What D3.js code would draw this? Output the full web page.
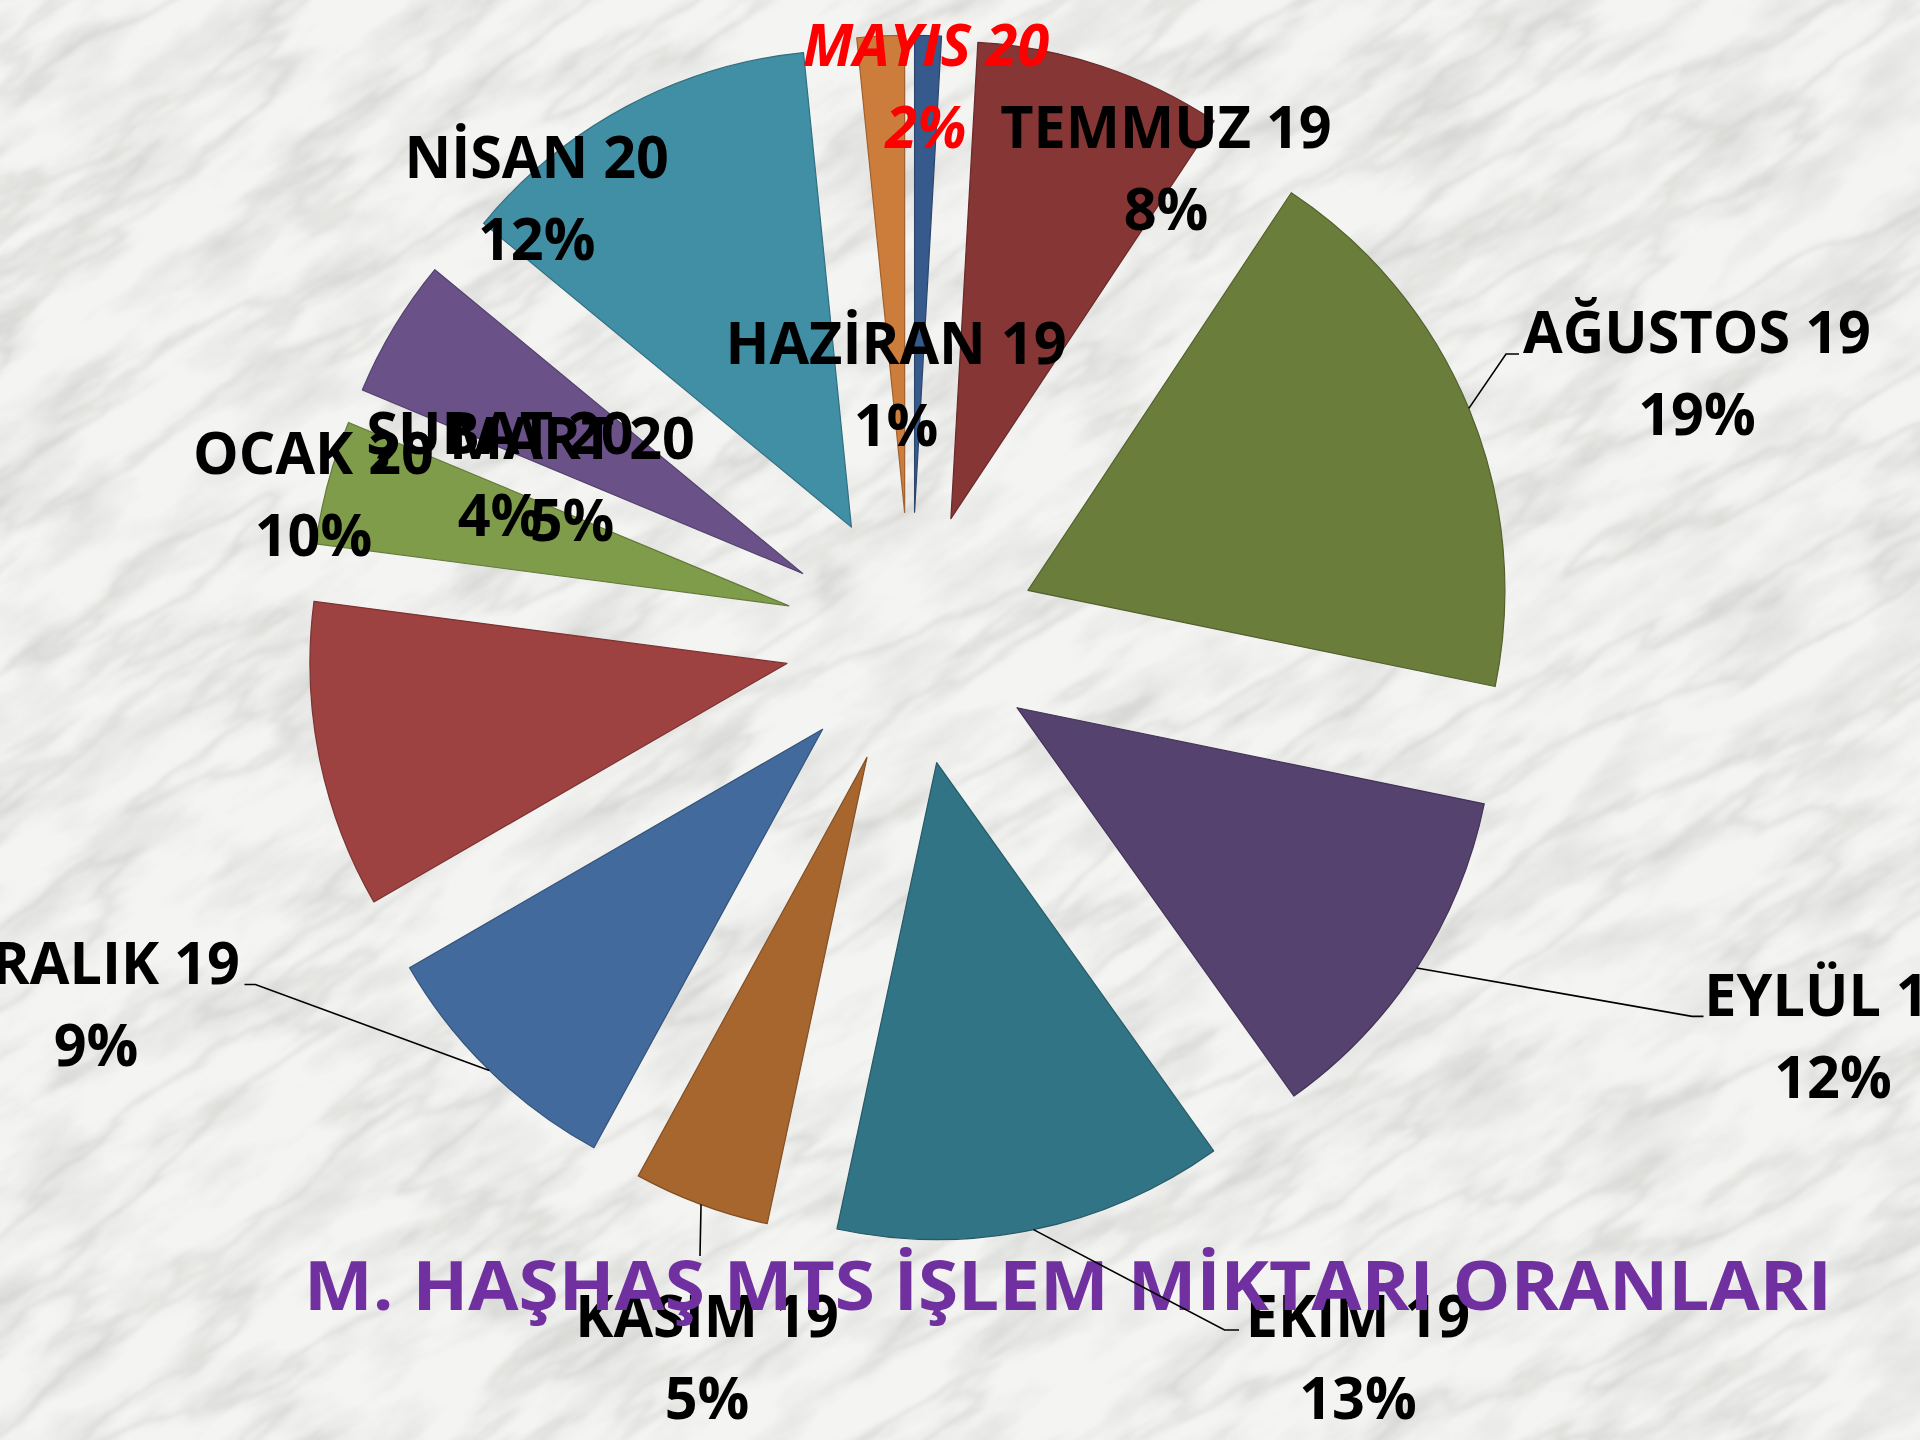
<!DOCTYPE html>
<html>
<head>
<meta charset="utf-8">
<script src="https://cdn.jsdelivr.net/npm/d3@7"></script>
<style>
  html, body { margin: 0; padding: 0; background: #f3f3f1; }
  svg { display: block; }
</style>
</head>
<body>
<script>
// Monthly MTS transaction shares, June 2019 – May 2020 (percent of total)
const months = ["HAZİRAN 19", "TEMMUZ 19", "AĞUSTOS 19", "EYLÜL 19", "EKİM 19", "KASIM 19",
                "ARALIK 19", "OCAK 20", "ŞUBAT 20", "MART 20", "NİSAN 20", "MAYIS 20"];
const shares = [0.9, 8.4, 18.9, 11.9, 13.2, 4.6, 8.7, 10.4, 4.2, 4.7, 12.4, 1.6];
const sliceColors = ["#375a8c", "#853635", "#6b7d3b", "#55426f", "#317485", "#a8662f",
                     "#436a9c", "#9e4241", "#7f9c4a", "#6a5289", "#408fa5", "#cd7d3b"];
const highlighted = ["MAYIS 20"];
const chartTitle = "M. HAŞHAŞ MTS İŞLEM MİKTARI ORANLARI";

// Layout: pie placement and label placement (baseline of the first label line)
const W = 1920, H = 1440;
const pieCenter = [911, 638.7];
const radius = 477;
const explode = 126.5;
const lineGap = 82;
const labelLayout = {
  "HAZİRAN 19": { x: 896,  y: 364 },
  "TEMMUZ 19":  { x: 1166, y: 148.3 },
  "AĞUSTOS 19": { x: 1697, y: 352.8, leader: [[1506, 354], [1519, 354]] },
  "EYLÜL 19":   { x: 1833, y: 1016,  leader: [[1692, 1016.4], [1703.5, 1016.4]] },
  "EKİM 19":    { x: 1358, y: 1336.7, leader: [[1224.5, 1330], [1239, 1330]] },
  "KASIM 19":   { x: 707,  y: 1336.7, leader: [[700, 1256]] },
  "ARALIK 19":  { x: 96,   y: 984,   leader: [[255.4, 984.5], [244.5, 984.5]] },
  "OCAK 20":    { x: 313.5, y: 474 },
  "ŞUBAT 20":   { x: 500,  y: 454 },
  "MART 20":    { x: 572,  y: 459 },
  "NİSAN 20":   { x: 536.7, y: 178.3 },
  "MAYIS 20":   { x: 926,  y: 66 }
};
const labelFont = "'Open Sans', 'Noto Sans', sans-serif";
const labelSize = 58.4;
const squeeze = 0.985;

const svg = d3.select("body").append("svg")
  .attr("width", W).attr("height", H)
  .attr("viewBox", `0 0 ${W} ${H}`);

// ---- marble backdrop ----
const defs = svg.append("defs");

const veins = defs.append("filter").attr("id", "veins")
  .attr("filterUnits", "userSpaceOnUse")
  .attr("x", -1500).attr("y", -1500).attr("width", 5200).attr("height", 5200);
veins.append("feTurbulence").attr("type", "fractalNoise")
  .attr("baseFrequency", "0.0032 0.013").attr("numOctaves", 5).attr("seed", 11)
  .attr("result", "noise");
veins.append("feColorMatrix").attr("in", "noise").attr("type", "matrix")
  .attr("values", "0 0 0 0 0  0 0 0 0 0  0 0 0 0 0  1 0 0 0 0").attr("result", "a");
veins.append("feComponentTransfer").attr("in", "a").attr("result", "vein")
  .append("feFuncA").attr("type", "table")
  .attr("tableValues", "0 0 0 0 0 0 0 0 0.05 0.17 0.05 0 0 0 0 0 0 0 0 0 0");
veins.append("feGaussianBlur").attr("in", "vein").attr("stdDeviation", 1.6).attr("result", "soft");
veins.append("feFlood").attr("flood-color", "#8f8f8c").attr("result", "grey");
veins.append("feComposite").attr("in", "grey").attr("in2", "soft").attr("operator", "in");

const mottle = defs.append("filter").attr("id", "mottle")
  .attr("filterUnits", "userSpaceOnUse")
  .attr("x", -1500).attr("y", -1500).attr("width", 5200).attr("height", 5200);
mottle.append("feTurbulence").attr("type", "fractalNoise")
  .attr("baseFrequency", "0.008 0.022").attr("numOctaves", 4).attr("seed", 4)
  .attr("result", "noise");
mottle.append("feColorMatrix").attr("in", "noise").attr("type", "matrix")
  .attr("values", "0 0 0 0 0.55  0 0 0 0 0.55  0 0 0 0 0.54  -2.2 0 0 0 1.25");

svg.append("rect").attr("width", W).attr("height", H).attr("fill", "#f4f4f2");
const texture = svg.append("g").attr("transform", `rotate(-32 ${W / 2} ${H / 2})`);
texture.append("rect").attr("x", -800).attr("y", -800).attr("width", W + 1600).attr("height", H + 1600)
  .attr("filter", "url(#mottle)").attr("opacity", 0.4);
texture.append("rect").attr("x", -800).attr("y", -800).attr("width", W + 1600).attr("height", H + 1600)
  .attr("filter", "url(#veins)");

// ---- exploded pie ----
const total = d3.sum(shares);
const color = d3.scaleOrdinal().domain(months).range(sliceColors);
const pct = d3.format(".0%");
const data = months.map((m, i) => ({ month: m, value: shares[i] }));

const pie = d3.pie().sort(null).value(d => d.value).startAngle(0).endAngle(2 * Math.PI);
const arcs = pie(data);
const arc = d3.arc().innerRadius(0).outerRadius(radius);

const offset = d => {
  const mid = (d.startAngle + d.endAngle) / 2;
  return [explode * Math.sin(mid), -explode * Math.cos(mid)];
};

const pieG = svg.append("g").attr("transform", `translate(${pieCenter[0]},${pieCenter[1]})`);
pieG.selectAll("path.slice").data(arcs).join("path")
  .attr("class", "slice")
  .attr("transform", d => `translate(${offset(d)})`)
  .attr("d", arc)
  .attr("fill", d => color(d.data.month))
  .attr("stroke", d => d3.color(color(d.data.month)).darker(0.7))
  .attr("stroke-width", 1.2)
  .attr("stroke-linejoin", "round");

// ---- data labels ----
const labelG = svg.append("g")
  .attr("font-family", labelFont)
  .attr("font-weight", "bold")
  .attr("font-size", labelSize)
  .attr("text-anchor", "middle");

arcs.forEach(d => {
  const m = d.data.month;
  const L = labelLayout[m];
  const hot = highlighted.includes(m);
  const g = labelG.append("g")
    .attr("transform", `translate(${L.x},${L.y}) scale(${squeeze},1)`)
    .attr("fill", hot ? "#ff0000" : "#000000")
    .attr("font-style", hot ? "italic" : "normal");
  g.append("text").attr("x", 0).attr("y", 0).text(m);
  g.append("text").attr("x", 0).attr("y", lineGap).text(pct(d.data.value / total));
});

// ---- title ----
svg.append("text")
  .attr("x", 1068).attr("y", 1310)
  .attr("text-anchor", "middle")
  .attr("font-family", labelFont)
  .attr("font-weight", "bold")
  .attr("font-size", 67.6)
  .attr("fill", "#7030a0")
  .attr("textLength", 1528)
  .attr("lengthAdjust", "spacingAndGlyphs")
  .text(chartTitle);

// ---- leader lines from slice edge to label ----
const leaderG = svg.append("g")
  .attr("fill", "none").attr("stroke", "#000").attr("stroke-width", 1.6);
arcs.forEach(d => {
  const L = labelLayout[d.data.month];
  if (!L.leader) return;
  const mid = (d.startAngle + d.endAngle) / 2;
  const [ox, oy] = offset(d);
  const start = [pieCenter[0] + ox + radius * Math.sin(mid), pieCenter[1] + oy - radius * Math.cos(mid)];
  leaderG.append("path").attr("d", d3.line()([start, ...L.leader]));
});
</script>
</body>
</html>
